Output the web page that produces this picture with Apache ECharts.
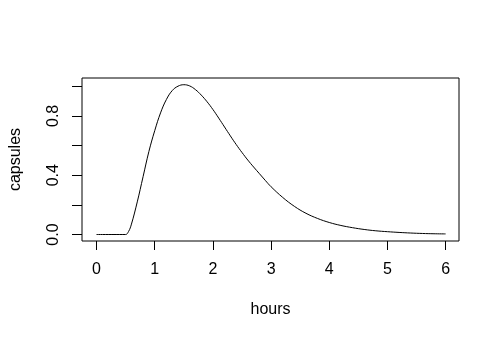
<!DOCTYPE html>
<html>
<head>
<meta charset="utf-8">
<script src="https://cdn.jsdelivr.net/npm/echarts@6/dist/echarts.min.js"></script>
<style>html,body{margin:0;padding:0;background:#fff}#c{width:500px;height:339px}</style>
</head>
<body>
<div id="c"></div>
<script>
// Data
var hours = [0, 0.1, 0.2, 0.3, 0.4, 0.5, 0.55, 0.6, 0.7, 0.8, 0.9, 1.0, 1.1, 1.2, 1.3, 1.4, 1.5, 1.6, 1.7, 1.8, 1.9, 2.0, 2.1, 2.2, 2.3, 2.4, 2.5, 2.6, 2.7, 2.8, 2.9, 3.0, 3.2, 3.4, 3.6, 3.8, 4.0, 4.2, 4.4, 4.6, 4.8, 5.0, 5.2, 5.4, 5.6, 5.8, 6.0];
var capsules = [0, 0, 0, 0, 0, 0, 0.02, 0.07, 0.22, 0.39, 0.56, 0.70, 0.82, 0.91, 0.97, 1.00, 1.01, 1.002, 0.977, 0.94, 0.895, 0.843, 0.785, 0.725, 0.665, 0.607, 0.553, 0.502, 0.455, 0.41, 0.365, 0.322, 0.25, 0.19, 0.143, 0.108, 0.081, 0.061, 0.046, 0.034, 0.025, 0.019, 0.014, 0.010, 0.007, 0.005, 0.004];
var xTicks = [0, 1, 2, 3, 4, 5, 6];
var yTicks = [0, 0.2, 0.4, 0.6, 0.8, 1.0];
var yLabels = [0, 0.4, 0.8];

var chart = echarts.init(document.getElementById('c'), null, {renderer: 'canvas'});
var font = "'Liberation Sans', Arial, Helvetica, sans-serif";
chart.setOption({
  animation: false,
  backgroundColor: '#fff',
  grid: {left: 78, right: 41, top: 78, bottom: 98, show: true, borderColor: '#000', borderWidth: 1, backgroundColor: 'transparent'},
  xAxis: {
    type: 'value', min: -0.25, max: 6.23, position: 'bottom',
    name: 'hours', nameLocation: 'middle', nameGap: 61,
    nameTextStyle: {fontFamily: font, fontSize: 16, color: '#000'},
    axisLine: {show: false, onZero: false},
    splitLine: {show: false},
    axisTick: {show: true, inside: false, length: 9, customValues: xTicks, lineStyle: {color: '#000', width: 1}},
    axisLabel: {customValues: xTicks, margin: 21, fontFamily: font, fontSize: 16, color: '#000',
      formatter: function (v) { return String(v); }}
  },
  yAxis: {
    type: 'value', min: -0.0438, max: 1.0553, position: 'left',
    name: 'capsules', nameLocation: 'middle', nameGap: 58, nameRotate: 90,
    nameTextStyle: {fontFamily: font, fontSize: 16, color: '#000'},
    axisLine: {show: false, onZero: false},
    splitLine: {show: false},
    axisTick: {show: true, inside: false, length: 10, customValues: yTicks, lineStyle: {color: '#000', width: 1}},
    axisLabel: {customValues: yLabels, rotate: 90, margin: 20, fontFamily: font, fontSize: 16, color: '#000',
      formatter: function (v) { return v.toFixed(1); }}
  },
  series: [{
    type: 'line',
    data: hours.map(function (h, i) { return [h, capsules[i]]; }),
    showSymbol: false,
    smooth: 0.4,
    lineStyle: {color: '#000', width: 1},
    silent: true
  }]
});
</script>
</body>
</html>
